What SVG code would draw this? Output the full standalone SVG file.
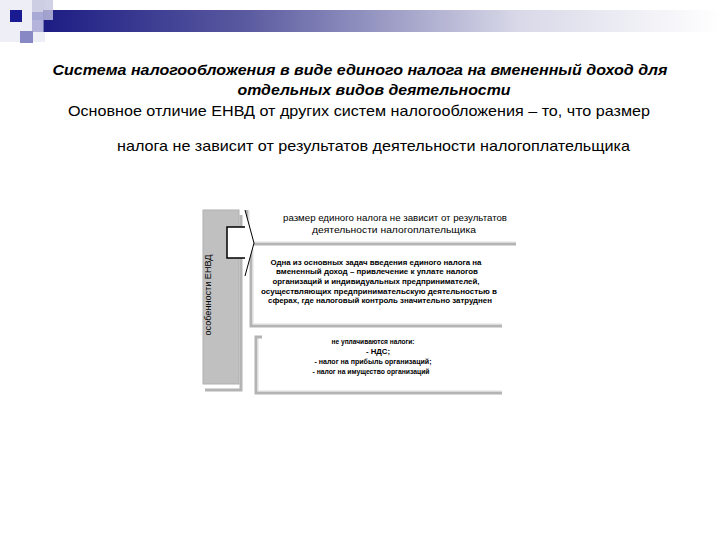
<svg xmlns="http://www.w3.org/2000/svg" width="720" height="540" viewBox="0 0 720 540">
<defs>
<linearGradient id="bar" x1="0" y1="0" x2="1" y2="0">
<stop offset="0" stop-color="#1c1c84"/>
<stop offset="0.3" stop-color="#5a5aa0"/>
<stop offset="0.7" stop-color="#d8d8e8"/>
<stop offset="1" stop-color="#ffffff"/>
</linearGradient>
<style>
.title{font-family:"Liberation Sans",Arial,sans-serif;font-size:15px;font-weight:bold;font-style:italic;fill:#000}
.body{font-family:"Liberation Sans",Arial,sans-serif;font-size:15px;fill:#000}
.small{font-family:"Liberation Sans",Arial,sans-serif;font-size:8.5px;fill:#000}
.smallb{font-family:"Liberation Sans",Arial,sans-serif;font-size:8px;fill:#000;font-weight:bold}
.br{fill:none;stroke:#b4b4b4;stroke-width:3}
.brl{fill:none;stroke:#dcdcdc;stroke-width:1}
</style>
</defs>
<rect width="720" height="540" fill="#fff"/>
<g id="decor">
<rect x="0" y="0" width="45" height="42" fill="#eeeef6"/>
<rect x="43" y="10" width="677" height="22" fill="url(#bar)"/>
<rect x="32" y="0" width="21" height="20" fill="#c4c4e0" opacity="0.8"/>
<rect x="32" y="12" width="12" height="20" fill="#9a9ad0" opacity="0.7"/>
<rect x="10" y="10" width="12" height="12" fill="#1a1a90"/>
<rect x="20" y="31" width="13" height="12" fill="#8888c4"/>
</g>
<g id="heading">
<text class="title" x="360" y="75" text-anchor="middle" textLength="615" lengthAdjust="spacingAndGlyphs">Система налогообложения в виде единого налога на вмененный доход для</text>
<text class="title" x="374" y="95" text-anchor="middle" textLength="273" lengthAdjust="spacingAndGlyphs">отдельных видов деятельности</text>
<text class="body" x="68" y="116" textLength="582" lengthAdjust="spacingAndGlyphs">Основное отличие ЕНВД от других систем налогообложения – то, что  размер</text>
<text class="body" x="117" y="151" textLength="513" lengthAdjust="spacingAndGlyphs">налога не зависит от результатов деятельности налогоплательщика</text>
</g>
<g id="connectors">
<polyline class="br" points="241,215 241,390 205,390"/>
<polyline class="br" points="247,210 247,244 516,244"/>
<polyline class="brl" points="249,211 249,242 516,242"/>
<polyline class="br" points="251,248 251,326 502,326"/>
<polyline class="brl" points="253,249 253,324 502,324"/>
<polyline class="br" points="262,337 256,337 256,393 502,393"/>
<polyline class="brl" points="258,339 258,391 502,391"/>
</g>
<g id="side">
<rect x="203" y="210" width="36" height="174" fill="#c0c0c0" stroke="#b0b0b0" stroke-width="1"/>
<text class="small" transform="translate(211,295) rotate(-90)" text-anchor="middle" textLength="81" lengthAdjust="spacingAndGlyphs">особенности ЕНВД</text>
</g>
<g id="arrow">
<polygon points="227,227 245,227 245,210 254,243 245,276 245,258 227,258" fill="#fff"/>
<polyline points="245,210 254,243 245,276" fill="none" stroke="#000" stroke-width="1"/>
<polyline points="245,227 227,227 227,258 245,258" fill="none" stroke="#000" stroke-width="1.5"/>
</g>
<g id="box1">
<text class="small" x="395" y="221" text-anchor="middle" textLength="224" lengthAdjust="spacingAndGlyphs">размер единого налога не зависит от результатов</text>
<text class="small" x="394" y="233" text-anchor="middle" textLength="164" lengthAdjust="spacingAndGlyphs">деятельности налогоплательщика</text>
</g>
<g id="box2">
<text class="smallb" x="376" y="265" text-anchor="middle" textLength="211" lengthAdjust="spacingAndGlyphs">Одна из основных задач введения единого налога на</text>
<text class="smallb" x="377" y="274" text-anchor="middle" textLength="202" lengthAdjust="spacingAndGlyphs">вмененный доход – привлечение  к уплате налогов</text>
<text class="smallb" x="376" y="284" text-anchor="middle" textLength="207" lengthAdjust="spacingAndGlyphs">организаций и индивидуальных предпринимателей,</text>
<text class="smallb" x="379" y="294" text-anchor="middle" textLength="236" lengthAdjust="spacingAndGlyphs">осуществляющих предпринимательскую деятельностью в</text>
<text class="smallb" x="380" y="303" text-anchor="middle" textLength="224" lengthAdjust="spacingAndGlyphs">сферах, где налоговый контроль значительно затруднен</text>
</g>
<g id="box3">
<text class="smallb" x="373" y="344" text-anchor="middle" textLength="83" lengthAdjust="spacingAndGlyphs">не уплачиваются налоги:</text>
<text class="smallb" x="378" y="354" text-anchor="middle" textLength="24" lengthAdjust="spacingAndGlyphs">- НДС;</text>
<text class="smallb" x="373" y="364" text-anchor="middle" textLength="117" lengthAdjust="spacingAndGlyphs">- налог на прибыль организаций;</text>
<text class="smallb" x="371" y="374" text-anchor="middle" textLength="117" lengthAdjust="spacingAndGlyphs">- налог на имущество организаций</text>
</g>
</svg>
